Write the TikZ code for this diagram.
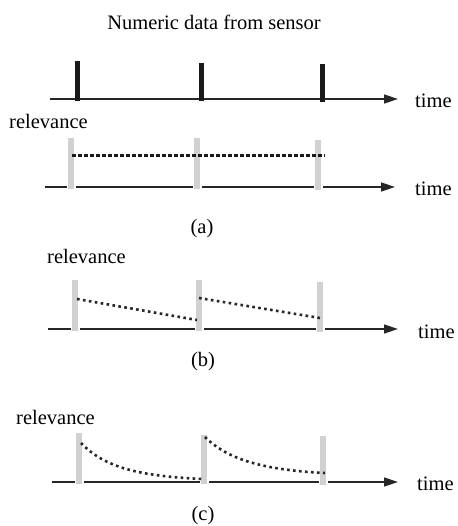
\documentclass[tikz,border=0pt]{standalone}
\usepackage{fontspec}
\setmainfont{Liberation Serif}
\usetikzlibrary{arrows.meta}
\begin{document}
\begin{tikzpicture}[x=1pt,y=-1pt,every node/.style={font=\fontsize{20.5}{24}\selectfont,inner sep=0pt,text=black},
  axis/.style={draw=black!85,line width=1.4pt,-{Triangle[length=14pt,width=9pt]}},
  pulse/.style={draw=black!90,line width=5pt},
  relbar/.style={draw=black!18,line width=6pt,preaction={draw=white,line width=9pt}},
  flat/.style={draw=black!90,line width=3pt,dash pattern=on 4pt off 2pt},
  decay/.style={draw=black!85,line width=2.6pt,dash pattern=on 2.6pt off 3.4pt}]
\useasboundingbox (0,0) rectangle (457,526);
\node (title) at (214,22) {Numeric data from sensor};
% sensor samples
\draw[axis] (50,99) -- (398,99);
\draw[pulse] (77,61) -- (77,101);\draw[pulse] (201,63) -- (201,101);\draw[pulse] (322,64) -- (322,102);
\node[anchor=west] (time0) at (415,101) {time};
% (a) constant relevance
\node[anchor=west] (rela) at (9,121) {relevance};
\draw[axis] (45,187) -- (395,187);
\draw[relbar] (71,138) -- (71,189);\draw[relbar] (197,138) -- (197,189);\draw[relbar] (318,140) -- (318,190);
\draw[flat] (72,156) -- (325,156);
\node[anchor=west] (timea) at (415,189) {time};
\node (capa) at (202,229) {(a)};
% (b) linear decay
\node[anchor=west] (relb) at (47,256) {relevance};
\draw[axis] (48,329) -- (398,329);
\draw[relbar] (75,280) -- (75,331);\draw[relbar] (199,280) -- (199,331);\draw[relbar] (320,282) -- (320,332);
\draw[decay] (77,299) -- (197,320);\draw[decay] (199,298) -- (320,318);
\node[anchor=west] (timeb) at (418,332) {time};
\node (capb) at (203,362) {(b)};
% (c) fast decay
\node[anchor=west] (relc) at (16,417) {relevance};
\draw[axis] (52,482) -- (398,482);
\draw[relbar] (79,433) -- (79,484);\draw[relbar] (204,435) -- (204,484);\draw[relbar] (323,436) -- (323,485);
\draw[decay] (81,443) .. controls (105,468) and (140,476) .. (202,479);
\draw[decay] (205,437) .. controls (228,460) and (265,470) .. (325,473);
\node[anchor=west] (timec) at (417,484) {time};
\node (capc) at (203,516) {(c)};
\end{tikzpicture}
\end{document}
